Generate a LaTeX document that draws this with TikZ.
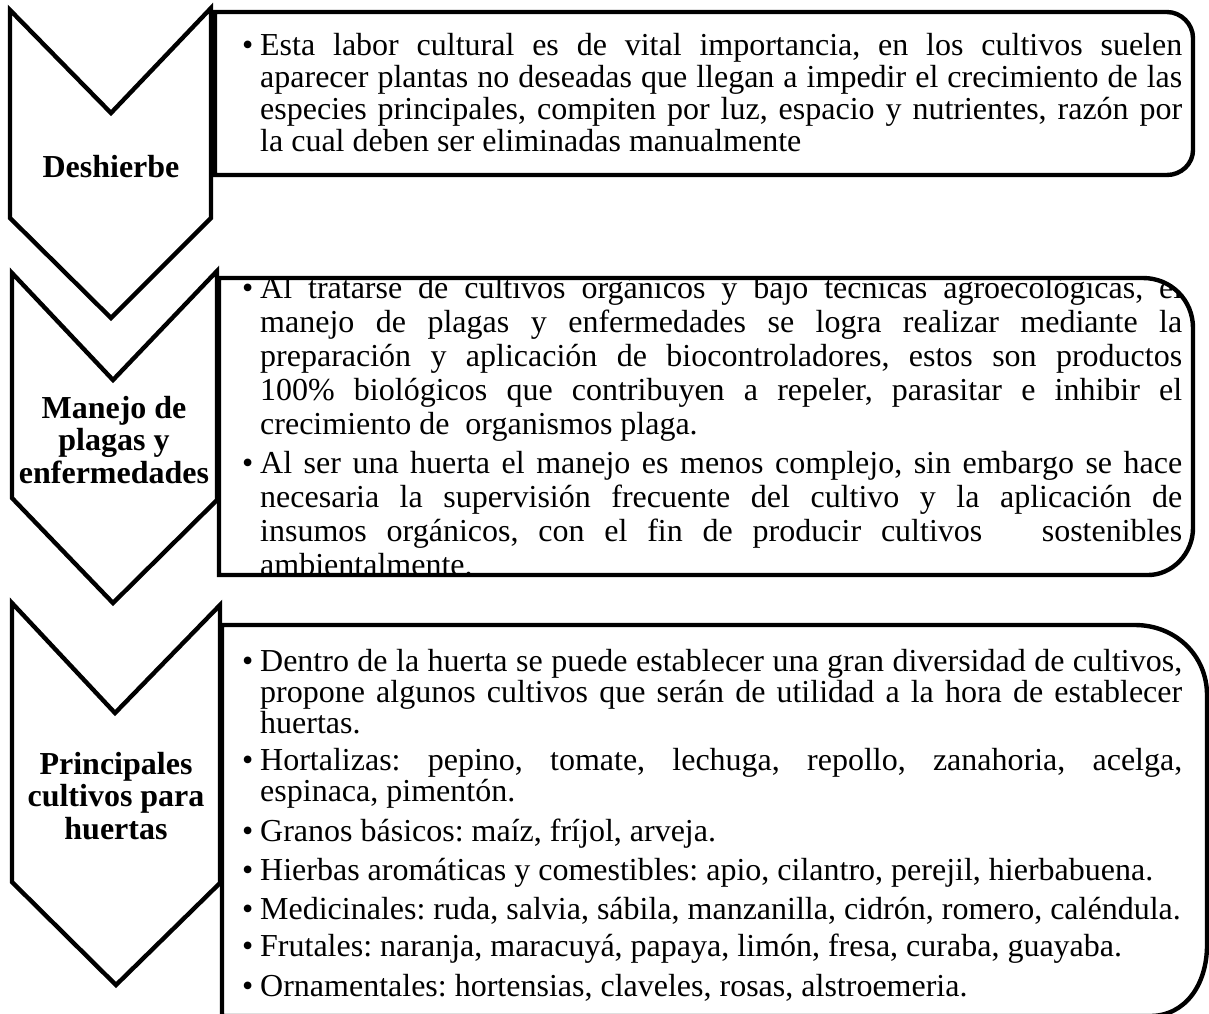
\documentclass[tikz,border=0pt]{standalone}
\usepackage{fontspec}
\setmainfont{Liberation Serif}

\newcommand{\bul}{\leftskip=9pt\noindent\llap{\makebox[9pt][l]{\textbullet}}\ignorespaces}

\tikzset{every picture/.style={line width=2.2pt}}
\tikzset{
  chevlabel/.style={align=center, inner sep=0pt, font=\fontsize{16}{16.25}\selectfont\bfseries},
  boxtext/.style 2 args={anchor=base west, inner sep=0pt, text width=470pt, align=justify,
    execute at begin node={\fontsize{16}{#1}\selectfont\frenchspacing\setlength{\parskip}{#2}}}
}

\begin{document}
\begin{tikzpicture}[x=0.5pt,y=0.5pt,yscale=-1]
\useasboundingbox (0,0) rectangle (1209,1013);
\clip (0,0) rectangle (1209,1013);

% Text Node
\node (deshierbe) [chevlabel] at (111,167) {Deshierbe};
% Text Node
\node (manejo) [chevlabel] at (114,440) {Manejo de\\plagas y\\enfermedades};
% Text Node
\node (principales) [chevlabel] at (116,796) {Principales\\cultivos para\\huertas};

% Text Node
\node (txtdeshierbe) [boxtext={16pt}{0pt}] at (240,55) {\bul Esta labor cultural es de vital importancia, en los cultivos suelen\linebreak
aparecer plantas no deseadas que llegan a impedir el crecimiento de las\linebreak
especies principales, compiten por luz, espacio y nutrientes, razón por\linebreak
la cual deben ser eliminadas manualmente\par};

% Text Node (clipped by its box)
\begin{scope}
\clip (219,575) -- (219,278) -- (1143,278) .. controls (1171,278) and (1193,300) .. (1193,328) -- (1193,528) .. controls (1193,554) and (1172,575) .. (1148,575) -- cycle ;
\node (txtmanejo) [boxtext={17pt}{2.5pt}] at (240,298) {\bul Al tratarse de cultivos orgánicos y bajo técnicas agroecológicas, el\linebreak
manejo de plagas y enfermedades se logra realizar mediante la\linebreak
preparación y aplicación de biocontroladores, estos son productos\linebreak
100\% biológicos que contribuyen a repeler, parasitar e inhibir el\linebreak
crecimiento de\ \ organismos plaga.
\par\bul Al ser una huerta el manejo es menos complejo, sin embargo se hace\linebreak
necesaria la supervisión frecuente del cultivo y la aplicación de\linebreak
insumos orgánicos, con el fin de producir cultivos\ \ \ sostenibles\linebreak
ambientalmente.\par};
\end{scope}

% Text Node
\node (txtcultivos) [boxtext={14.5pt}{4.1pt}] at (240,671) {\bul Dentro de la huerta se puede establecer una gran diversidad de cultivos,\linebreak
propone algunos cultivos que serán de utilidad a la hora de establecer\linebreak
huertas.
\par\bul Hortalizas: pepino, tomate, lechuga, repollo, zanahoria, acelga,\linebreak
espinaca, pimentón.
\par\bul Granos básicos: maíz, fríjol, arveja.
\par\bul Hierbas aromáticas y comestibles: apio, cilantro, perejil, hierbabuena.
\par\bul Medicinales: ruda, salvia, sábila, manzanilla, cidrón, romero, caléndula.
\par\bul Frutales: naranja, maracuyá, papaya, limón, fresa, curaba, guayaba.
\par\bul Ornamentales: hortensias, claveles, rosas, alstroemeria.\par};

%Shape: Chevron [Deshierbe]
\draw (10,10) -- (111,113) -- (211,8) -- (211,218) -- (111,318) -- (10,218) -- cycle ;
%Shape: Chevron [Manejo]
\draw (12,273) -- (113,380) -- (217,271) -- (217,500) -- (113,603) -- (12,498) -- cycle ;
%Shape: Chevron [Principales]
\draw (12,603) -- (115,713) -- (220,605) -- (220,883) -- (116,985) -- (12,882) -- cycle ;

%Shape: Box [Deshierbe]
\draw (215,175) -- (215,12) -- (1167,12) .. controls (1181,12) and (1193,24) .. (1193,38) -- (1193,150) .. controls (1193,164) and (1181,175) .. (1167,175) -- cycle ;
%Shape: Box [Manejo]
\draw (219,575) -- (219,278) -- (1143,278) .. controls (1171,278) and (1193,300) .. (1193,328) -- (1193,528) .. controls (1193,554) and (1172,575) .. (1148,575) -- cycle ;
%Shape: Box [Principales]
\draw (222,1016) -- (222,625) -- (1135,625) .. controls (1175,625) and (1207,655) .. (1207,695) -- (1207,945) .. controls (1207,985) and (1185,1016) .. (1150,1016) -- cycle ;

\end{tikzpicture}
\end{document}
